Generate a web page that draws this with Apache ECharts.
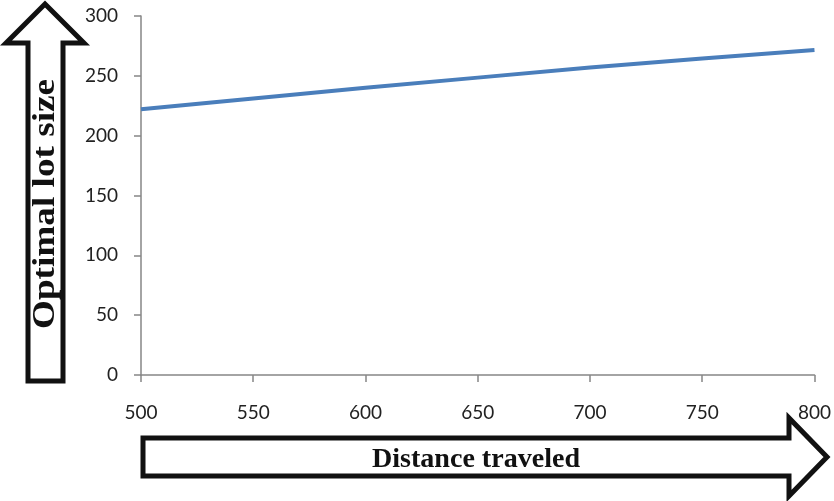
<!DOCTYPE html>
<html>
<head>
<meta charset="utf-8">
<script src="https://cdn.jsdelivr.net/npm/echarts@6/dist/echarts.min.js"></script>
<style>html,body{margin:0;padding:0;background:#fff;}#c{width:834px;height:501px;}</style>
</head>
<body>
<div id="c"></div>
<script>
var distances = [500, 550, 600, 650, 700, 750, 800];
var lotSizes = [222, 231, 240, 248.5, 257, 264.5, 271.5];
var yTicks = [0, 50, 100, 150, 200, 250, 300];
var xTicks = [500, 550, 600, 650, 700, 750, 800];
var yTitle = 'Optimal lot size';
var xTitle = 'Distance traveled';

var chart = echarts.init(document.getElementById('c'));
var data = distances.map(function (d, i) { return [d, lotSizes[i]]; });
chart.setOption({
  animation: false,
  backgroundColor: '#ffffff',
  grid: { left: 141, right: 16, top: 16, bottom: 126, containLabel: false },
  xAxis: {
    type: 'value', min: xTicks[0], max: xTicks[xTicks.length - 1], interval: 50,
    axisLine: { lineStyle: { color: '#868686', width: 1.5 } },
    axisTick: { show: true, length: 7, lineStyle: { color: '#868686', width: 1.5 } },
    axisLabel: { margin: 28, fontFamily: 'Lato', fontSize: 19, color: '#222' },
    splitLine: { show: false }
  },
  yAxis: {
    type: 'value', min: yTicks[0], max: yTicks[yTicks.length - 1], interval: 50,
    axisLine: { show: true, lineStyle: { color: '#868686', width: 1.5 } },
    axisTick: { show: true, length: 7, lineStyle: { color: '#868686', width: 1.5 } },
    axisLabel: { margin: 23, fontFamily: 'Lato', fontSize: 19, color: '#222' },
    splitLine: { show: false }
  },
  series: [{
    type: 'line', data: data, showSymbol: false, smooth: false,
    lineStyle: { color: '#4a7ebb', width: 4 }
  }],
  graphic: [
    {
      type: 'polygon',
      shape: { points: [[28, 381], [63, 381], [63, 43], [84, 43], [45, 4], [6, 43], [28, 43]] },
      style: { fill: '#fff', stroke: '#111', lineWidth: 5 }
    },
    {
      type: 'text', x: 46, y: 204, rotation: Math.PI / 2, scaleX: 1.2,
      style: { text: yTitle, font: 'bold 31px "Liberation Serif"', fill: '#111', align: 'center', verticalAlign: 'middle' }
    },
    {
      type: 'polygon',
      shape: { points: [[143, 438], [789, 438], [789, 418], [827, 457], [789, 496], [789, 476], [143, 476]] },
      style: { fill: '#fff', stroke: '#111', lineWidth: 5 }
    },
    {
      type: 'text', x: 476, y: 460, scaleX: 1.04,
      style: { text: xTitle, font: 'bold 27px "Liberation Serif"', fill: '#111', align: 'center', verticalAlign: 'middle' }
    }
  ]
});
</script>
</body>
</html>
